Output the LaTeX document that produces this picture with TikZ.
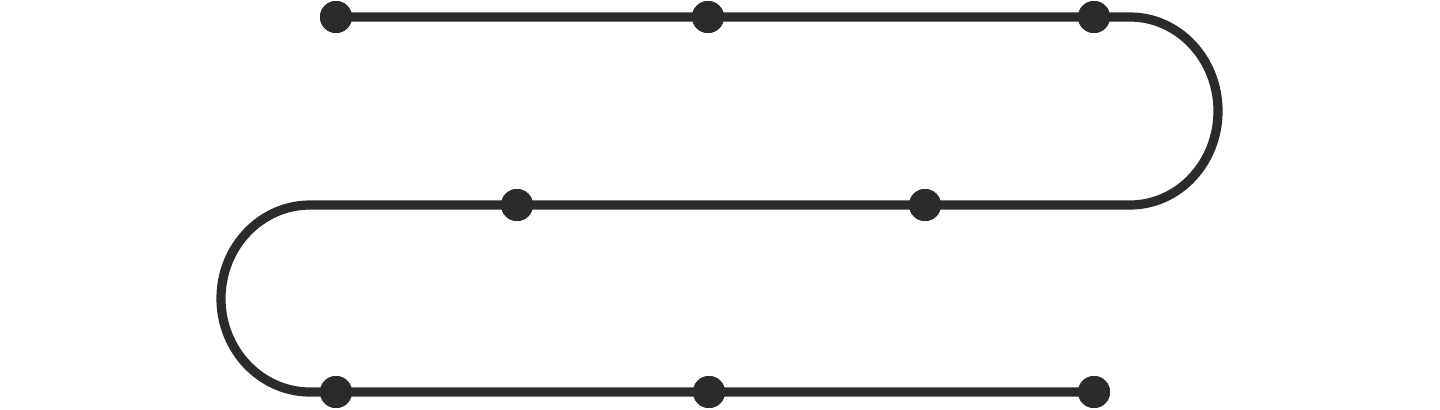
\documentclass[tikz,border=0pt]{standalone}
\usepackage{tikz}
\definecolor{ink}{HTML}{2B2B2B}
\begin{document}
\begin{tikzpicture}[x=0.5pt,y=-0.5pt]
      \useasboundingbox (0,0) rectangle (1440,409);

      \tikzstyle{dot} = [
        circle,
        fill=ink,
        draw=none,
        inner sep=0pt,
        minimum size=16pt,
      ]
      \tikzstyle{track} = [line width=4.6pt, draw=ink]

      % turning points
      \coordinate (turnRightTop) at (1130,17);
      \coordinate (turnLeftTop) at (310,205);

      % top row
      \node[dot] (top1) at (336,17) {};
      \node[dot] (top2) at (708,17) {};
      \node[dot] (top3) at (1094,17) {};

      % middle row
      \node[dot] (mid1) at (517,205) {};
      \node[dot] (mid2) at (925,205) {};

      % bottom row
      \node[dot] (bot1) at (336,392) {};
      \node[dot] (bot2) at (709,392) {};
      \node[dot] (bot3) at (1094,392) {};

      % snake
      \draw[track] (top1.center) -- (top2.center) -- (top3.center) -- (turnRightTop)
        arc[start angle=-90, end angle=90, x radius=88, y radius=94]
        -- (mid2.center) -- (mid1.center) -- (turnLeftTop)
        arc[start angle=270, end angle=90, x radius=89, y radius=93.5]
        -- (bot1.center) -- (bot2.center) -- (bot3.center);

      % dots on top
      \foreach \d in {top1,top2,top3,mid1,mid2,bot1,bot2,bot3}
        \fill[ink] (\d) circle (8pt);
    \end{tikzpicture}
\end{document}
